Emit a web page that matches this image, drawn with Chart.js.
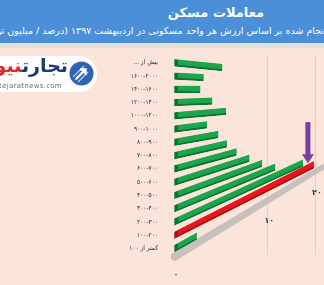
<!DOCTYPE html>
<html>
<head>
<meta charset="utf-8">
<script src="https://cdn.jsdelivr.net/npm/chart.js@4/dist/chart.umd.min.js"></script>
<style>
html,body{margin:0;padding:0;width:324px;height:285px;overflow:hidden;background:#fbe5da;font-family:"DejaVu Sans",sans-serif;}
#chartbox{position:absolute;left:0;top:0;width:324px;height:285px;}
canvas{direction:rtl;}
#header{position:absolute;left:0;top:0;width:324px;height:43px;background:#4a8fd8;overflow:hidden;z-index:2;}
#strip{position:absolute;left:0;top:43px;width:324px;height:5px;background:#e6e0dc;z-index:2;}
#title{position:absolute;top:5px;left:0;width:432px;text-align:center;color:#fff;font:bold 13px "DejaVu Sans";direction:rtl;}
#sub{position:absolute;top:25px;right:0;white-space:nowrap;color:#fff;font:9.5px "DejaVu Sans";direction:rtl;}
#pill{position:absolute;left:-40px;top:56px;width:137px;height:36px;background:#fff;border-radius:18px;z-index:2;}
#brand{position:absolute;right:256px;top:54px;white-space:nowrap;direction:rtl;font:bold 19px "DejaVu Sans";z-index:3;}
#brand .b{color:#1d3b7c;} #brand .r{color:#e2262b;}
#url{position:absolute;right:262px;top:82px;white-space:nowrap;font:7px "DejaVu Sans";color:#6a6a6a;letter-spacing:0.3px;z-index:3;}
#icon{position:absolute;left:69px;top:61px;z-index:3;}
</style>
</head>
<body>
<div id="chartbox"><canvas id="c"></canvas></div>
<div id="header">
  <div id="title">معاملات مسکن</div>
  <div id="sub"><span id="pre">توزیع معاملات ا</span>نجام شده بر اساس ارزش هر واحد مسکونی در اردیبهشت ۱۳۹۷ (درصد / میلیون تومان)</div>
</div>
<div id="strip"></div>
<div id="pill"></div>
<div id="brand"><span class="b">تجارت</span><span class="r">نیوز</span></div>
<div id="url">www.tejaratnews.com</div>
<svg id="icon" width="25" height="25" viewBox="0 0 25 25">
  <circle cx="12.5" cy="12.5" r="12" fill="#2f63b0"/>
  <path d="M4 16 L15 5 M6 19 L17 8 M9 21 L19 11" stroke="#ffffff" stroke-width="1.2" opacity="0.7"/>
  <path d="M7 18 L16 9 M11 8.5 L16.5 8.5 L16.5 14" stroke="#ffffff" stroke-width="2.4" fill="none"/>
</svg>
<script>
// ---- data ----
const categories = ['بیش از ...', '۱۶۰۰-۲۰۰۰', '۱۴۰۰-۱۶۰۰', '۱۲۰۰-۱۴۰۰', '۱۰۰۰-۱۲۰۰', '۹۰۰-۱۰۰۰', '۸۰۰-۹۰۰', '۷۰۰-۸۰۰', '۶۰۰-۷۰۰', '۵۰۰-۶۰۰', '۴۰۰-۵۰۰', '۳۰۰-۴۰۰', '۲۰۰-۳۰۰', '۱۰۰-۲۰۰', 'کمتر از ۱۰۰'];
const shares = [4.2, 2.4, 2.1, 3.2, 4.6, 2.7, 3.8, 4.7, 5.8, 7.4, 9.2, 11.3, 16.9, 19.7, 1.8];
const highlightIndex = 13;
const xTickValues = [0, 10, 20];
const xTickLabels = ['۰', '۱۰', '۲۰'];

// fit the subtitle cut as in the reference
const pre = document.getElementById('pre');
document.getElementById('sub').style.right = (-pre.getBoundingClientRect().width) + 'px';

// ---- perspective helpers ----
const PC = 0.0479;      // depth foreshortening of the value axis
const VY = 91, VD = 285; // vanishing height / distance
const skewAt = y => -(y - VY) / VD;

class PerspectiveScale extends Chart.LinearScale {
  _g(v){ return v / (1 + PC * v); }
  getPixelForValue(value){
    if (value === null || value === undefined || isNaN(value)) return NaN;
    const t = this._g(value - this.min) / this._g(this.max - this.min);
    return this.getPixelForDecimal(t);
  }
  getValueForPixel(pixel){
    const t = this.getDecimalForPixel(pixel) * this._g(this.max - this.min);
    return this.min + t / (1 - PC * t);
  }
  drawLabels(){
    const ctx = this.ctx, chart = this.chart;
    const yScale = chart.scales.y;
    const floorY = yScale.getPixelForValue(categories.length - 1) + 9;
    const x0 = this.getPixelForValue(0);
    const k = skewAt(floorY);
    ctx.save();
    ctx.fillStyle = '#3a3a4a';
    ctx.font = 'bold 8px "DejaVu Sans"';
    ctx.textAlign = 'center';
    ctx.textBaseline = 'middle';
    this.ticks.forEach(t => {
      const px = this.getPixelForValue(t.value);
      ctx.fillText(t.label, px + 2, floorY + 18 + k * (px - x0));
    });
    ctx.restore();
  }
}
PerspectiveScale.id = 'perspective';
Chart.register(PerspectiveScale);

// bars drawn by the library, skewed toward the vanishing point
const baseDraw = Chart.BarElement.prototype.draw;
Chart.BarElement.prototype.draw = function(ctx){
  const k = skewAt(this.y);
  ctx.save();
  ctx.transform(1, k, 0, 1, 0, -k * this.base);
  baseDraw.call(this, ctx);
  ctx.restore();
};

const floorPlugin = {
  id: 'floor',
  beforeDatasetsDraw(chart){
    const {ctx, chartArea} = chart;
    const xs = chart.scales.x, ys = chart.scales.y;
    const yTop = ys.getPixelForValue(categories.length - 1) + 3;
    const x0 = xs.getPixelForValue(0) - 3;
    const x1 = chartArea.right + 10;
    const k = skewAt(yTop + 4);
    ctx.save();
    ctx.fillStyle = '#c8c0bc';
    ctx.beginPath();
    ctx.moveTo(x0, yTop + 3);
    ctx.lineTo(x1, yTop + k * (x1 - x0));
    ctx.lineTo(x1, yTop + 6 + k * (x1 - x0));
    ctx.lineTo(x0 + 4, yTop + 10);
    ctx.lineTo(x0, yTop + 8);
    ctx.closePath();
    ctx.fill();
    ctx.restore();
  },
  afterDatasetsDraw(chart){
    const {ctx} = chart;
    const el = chart.getDatasetMeta(0).data[highlightIndex];
    const k = skewAt(el.y);
    const xe = el.x - 6;
    const ye = el.y + k * (xe - el.base) - el.height / 2 - 1;
    ctx.save();
    ctx.fillStyle = '#7b3da0';
    ctx.fillRect(xe - 2.5, ye - 41, 5, 33);
    ctx.beginPath();
    ctx.moveTo(xe - 6, ye - 9);
    ctx.lineTo(xe + 6, ye - 9);
    ctx.lineTo(xe, ye);
    ctx.closePath();
    ctx.fill();
    ctx.restore();
  }
};

const green = '#1ba64b', greenDark = '#0c7433';
const red = '#e8161b', redDark = '#a50e12';

new Chart(document.getElementById('c'), {
  type: 'bar',
  data: {
    labels: categories,
    datasets: [{
      data: shares,
      backgroundColor: shares.map((v, i) => i === highlightIndex ? red : green),
      borderColor: shares.map((v, i) => i === highlightIndex ? redDark : greenDark),
      borderWidth: {left: 4, bottom: 2, top: 0, right: 0},
      borderSkipped: false,
      barThickness: 7
    }]
  },
  options: {
    indexAxis: 'y',
    responsive: true,
    maintainAspectRatio: false,
    animation: false,
    layout: {padding: {top: 56, bottom: 0, left: 0, right: 0}},
    plugins: {legend: {display: false}, tooltip: {enabled: false}, title: {display: false}},
    scales: {
      x: {
        type: 'perspective',
        min: 0,
        max: 22.3,
        afterFit: s => { s.height = 30; },
        afterBuildTicks: s => { s.ticks = s.ticks.filter(t => xTickValues.includes(t.value)); },
        ticks: {stepSize: 10, includeBounds: false, callback: v => xTickLabels[xTickValues.indexOf(v)] ?? ''},
        grid: {
          drawTicks: false,
          color: c => (c.tick && c.tick.value > 0) ? 'rgba(214,186,176,0.55)' : 'rgba(0,0,0,0)',
          lineWidth: 1
        },
        border: {display: false}
      },
      y: {
        afterFit: s => { s.width = 174; },
        ticks: {
          padding: 16,
          color: '#2a2a44',
          font: {family: '"DejaVu Sans Condensed", "DejaVu Sans"', size: 6.5}
        },
        grid: {display: false, drawTicks: false},
        border: {display: false}
      }
    }
  },
  plugins: [floorPlugin]
});
</script>
</body>
</html>
